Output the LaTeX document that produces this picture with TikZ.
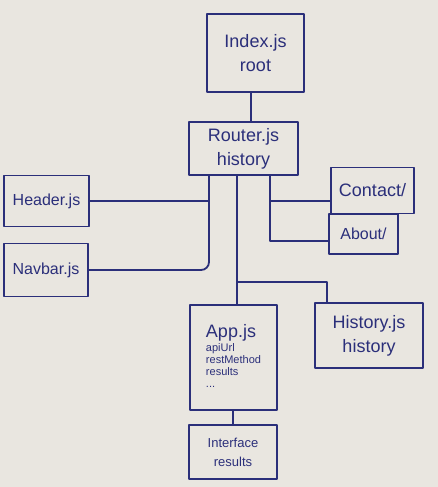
\documentclass[tikz,border=0pt]{standalone}
\usepackage{fontspec}
\setmainfont{Liberation Sans}
\usepackage{tikz}
\definecolor{board}{HTML}{E9E6E0}
\definecolor{ink}{HTML}{2B2F7A}
\tikzset{
  box/.style={draw=ink, line width=1.8pt, line join=round, text=ink, align=center, inner sep=0pt, font=\fontsize{18}{24}\selectfont},
  boxs/.style={box, font=\fontsize{16}{22}\selectfont},
  wire/.style={draw=ink, line width=1.8pt, line cap=round, line join=round},
}

\begin{document}
\begin{tikzpicture}[x=1pt,y=-1pt]
  \fill[board] (0,0) rectangle (438,487);

  \node[box, minimum width=97pt, minimum height=78pt] (index) at (255.5,53) {Index.js\\root};
  \node[box, minimum width=109pt, minimum height=53pt] (router) at (243.5,148.5) {Router.js\\history};
  \node[boxs, minimum width=85pt, minimum height=51pt] (header) at (46.5,201) {Header.js};
  \node[boxs, minimum width=84pt, minimum height=53pt] (navbar) at (46,270) {Navbar.js};
  \node[box, minimum width=83pt, minimum height=46pt] (contact) at (372.5,190.5) {Contact/};
  \node[boxs, minimum width=69pt, minimum height=40pt] (about) at (363.5,234) {About/};
  \node[box, minimum width=108pt, minimum height=65pt] (history) at (369,335.5) {History.js\\history};
  \node[box, align=left, minimum width=87pt, minimum height=105pt] (app) at (233.5,357.5)
    {App.js\\[-10pt]{\fontsize{11}{12}\selectfont\begin{tabular}[t]{@{}l@{}}apiUrl\\restMethod\\results\\...\end{tabular}}};
  \node[box, minimum width=88pt, minimum height=54pt, font=\fontsize{13}{19}\selectfont] (iface) at (233,452) {Interface\\results};

  % junctions of the hand drawn lines
  \coordinate (ji) at (251,92);
  \coordinate (jh) at (209,201);
  \coordinate (jl) at (209,270);
  \coordinate (jm) at (237,282);
  \coordinate (jn) at (327,282);
  \coordinate (jc) at (270,201);
  \coordinate (ja) at (270,241);

  \draw[wire] (index.south -| ji) -- (ji |- router.north);
  \draw[wire, rounded corners=8pt] (router.south -| jl) -- (jl) -- (navbar);
  \draw[wire] (jh) -- (header);
  \draw[wire] (router.south -| jm) -- (jm |- app.north);
  \draw[wire] (jm) -- (jn) -- (jn |- history.north);
  \draw[wire] (router.south -| jc) -- (ja) -- (ja -| about.west);
  \draw[wire] (jc) -- (jc -| contact.west);
  \draw[wire] (app.south -| iface.north) -- (iface);
\end{tikzpicture}
\end{document}
